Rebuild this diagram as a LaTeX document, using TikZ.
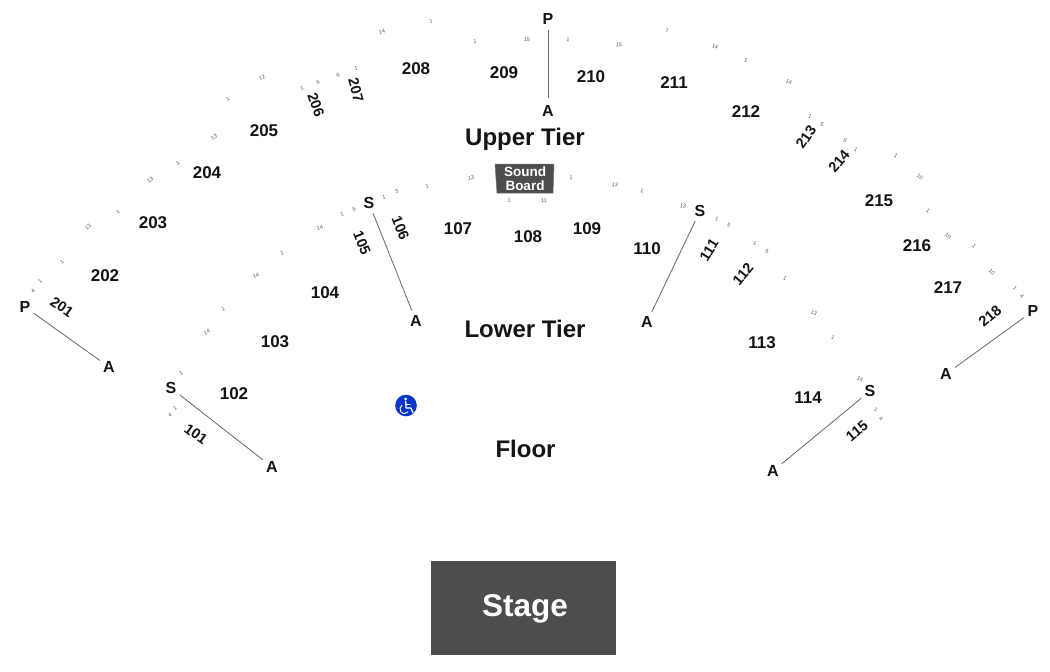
\documentclass[tikz,border=0pt]{standalone}
\usepackage{fontspec}
\setmainfont{Liberation Sans}
\definecolor{darkbox}{HTML}{4D4D4D}
\definecolor{rownum}{HTML}{5A5A5A}
\definecolor{aisle}{HTML}{666666}
\definecolor{access}{HTML}{0B35C9}
\tikzset{
  seclabel/.style={font=\bfseries\fontsize{17}{17}\selectfont,text=black!92,inner sep=0pt},
  seclabelturned/.style={font=\bfseries\fontsize{14.5}{14.5}\selectfont,text=black!92,inner sep=0pt},
  tierlabel/.style={font=\bfseries\fontsize{24}{24}\selectfont,text=black!92,inner sep=0pt},
  rowlabel/.style={font=\fontsize{5.5}{5.5}\selectfont,text=rownum,inner sep=0pt},
  aislelabel/.style={circle,inner sep=0pt,minimum size=22pt,font=\bfseries\fontsize{16}{16}\selectfont,text=black!92},
  aisleline/.style={draw=aisle,line width=0.8pt},
  darkpanel/.style={fill=darkbox,draw=darkbox!80,line width=0.5pt}
}
\begin{document}
\begin{tikzpicture}[x=1pt,y=-1pt]
\useasboundingbox[fill=white] (0,0) rectangle (1050,672);
% stage and sound board
\path[fill=darkbox] (431,561) rectangle (616,655);
\node[font=\bfseries\fontsize{31.5}{31.5}\selectfont,text=white,inner sep=0pt] (stage) at (525,609) {Stage};
\path[darkpanel] (495,164) -- (554,164) -- (553,193) -- (497,193) -- cycle;
\node[font=\bfseries\fontsize{13.5}{14}\selectfont,text=white,inner sep=0pt,align=center] (board) at (525,178.5) {Sound\\Board};
% tier labels
\node[tierlabel] (upper) at (525,139.5) {Upper Tier};
\node[tierlabel] (lower) at (525,329) {Lower Tier};
\node[tierlabel] (floor) at (525.5,449) {Floor};
% section labels, upright
\foreach \x/\y/\t in {234/394/102,275/342/103,325/293/104,458/229/107,528/237/108,587/229/109,647/249/110,762/343/113,808/398/114,
  105/276/202,153/223/203,207/173/204,264/131/205,416/69/208,504/73/209,591/77/210,674/83/211,746/112/212,879/201/215,917/246/216,948/288/217}
  \node[seclabel] (sec\t) at (\x,\y) {\t};
% section labels, rotated
\foreach \x/\y/\t/\r in {196/434/101/-35,362/243/105/-68,400.5/228/106/-68,709/250/111/58,743/274/112/50,857/431/115/40,
  62/307/201/-35,316/105/206/-70,356/90/207/-75,806/137/213/55,839/161/214/50,990/316/218/40}
  \node[seclabelturned,rotate=\r] (sec\t) at (\x,\y) {\t};
% row numbers
\foreach \x/\y/\t in {
  262/78/12,228/99/1,214/137/13,178/163/1,150/180/13,118/212/1,88/227/13,62/262/1,40/281/1,33/291/4,
  302/88/1,318/82/6,338/75/6,356/68/1,382/32/14,431/21/1,475/41/1,527/40/15,568/40/1,619/45/15,667/31/7,
  715/47/14,746/60/1,789/82/14,810/116/1,822/125/5,845/141/5,856/150/1,896/156/1,920/177/10,928/211/1,
  948/236/10,974/246/1,992/272/10,1015/288/1,1022/296/4,
  282/253/1,256/276/14,223/309/1,207/332/14,181/373/1,175/408/1,170/415/4,
  320/228/14,342/214/1,354/209/5,384/197/1,397/191/5,427/186/1,471/178/13,509/201/1,544/201/11,571/178/1,
  615/185/13,642/191/1,683/206/13,717/219/1,729/225/5,755/243/1,767/251/5,785/278/1,814/313/13,833/338/1,
  860/379/14,876/410/1,881/419/4}
  \node[rowlabel,rotate={-(\x-525)*0.09}] (row\x-\y) at (\x,\y) {\t};
% aisle ends
\node[aislelabel] (p1) at (548,19) {P};
\node[aislelabel,minimum size=26pt] (a1) at (548,111) {A};
\node[aislelabel] (p2) at (25,307) {P};
\node[aislelabel] (a2) at (109,367) {A};
\node[aislelabel] (s3) at (171,388) {S};
\node[aislelabel] (a3) at (272,467) {A};
\node[aislelabel] (s4) at (369,203) {S};
\node[aislelabel] (a4) at (416,321) {A};
\node[aislelabel] (s5) at (700,211) {S};
\node[aislelabel] (a5) at (647,322) {A};
\node[aislelabel] (s6) at (870,391) {S};
\node[aislelabel] (a6) at (773,471) {A};
\node[aislelabel] (p7) at (1033,311) {P};
\node[aislelabel] (a7) at (946,374) {A};
\foreach \u/\v in {p1/a1,p2/a2,s3/a3,s4/a4,s5/a5,s6/a6,p7/a7}
  \draw[aisleline] (\u) -- (\v);
% accessibility symbol
\fill[access] (406,405.5) circle (10.8);
\fill[white] (405.7,399) circle (1.5);
\draw[white,line width=1.3pt,line cap=round,line join=round] (405.8,401.5) -- (406,408) -- (410.8,408) -- (413,412.5);
\draw[white,line width=1pt,line cap=round] (406,404.5) -- (410,404.5);
\draw[white,line width=0.9pt,line cap=round] (401.9,405.3) arc[start angle=235,end angle=40,radius=4.5];
\end{tikzpicture}
\end{document}
